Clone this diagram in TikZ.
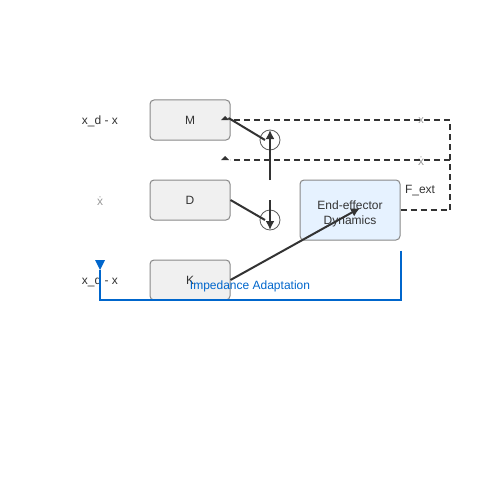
\documentclass[tikz,border=0pt]{standalone}
\usepackage{fontspec}
\setmainfont{Liberation Sans}
\usetikzlibrary{arrows.meta}
\definecolor{ink}{HTML}{333333}
\definecolor{boxline}{HTML}{888888}
\definecolor{blockfill}{HTML}{F0F0F0}
\definecolor{plantfill}{HTML}{E6F2FF}
\definecolor{adaptblue}{HTML}{0066CC}
\definecolor{faint}{HTML}{999999}

\begin{document}
\begin{tikzpicture}[x=1pt,y=-1pt,
  font=\fontsize{12}{15}\selectfont,
  block/.style={draw=boxline, fill=blockfill, rounded corners=4pt, line width=1pt,
    minimum width=80pt, minimum height=40pt, inner sep=0pt, text=ink},
  plant/.style={block, fill=plantfill, minimum width=100pt, minimum height=60pt},
  summer/.style={circle, draw=ink!80, line width=0.8pt, minimum size=20pt, inner sep=0pt},
  flow/.style={draw=ink, line width=2pt},
  tip/.style={-{Latex[length=9pt,width=9pt]}},
  feedback/.style={draw=ink, line width=1.7pt, dash pattern=on 6pt off 4pt},
  adapt/.style={draw=adaptblue, line width=2pt},
  lbl/.style={text=ink, inner sep=0pt}]
  \useasboundingbox (0,0) rectangle (500,500);
  % blocks
  \node[block] (mass) at (190,120) {M};
  \node[block] (damp) at (190,200) {D};
  \node[block] (stiff) at (190,280) {K};
  \node[plant] (ee) at (350,210) {};
  \node[summer] (sumM) at (270,140) {};
  \node[summer] (sumD) at (270,220) {};
  % labels
  \node[lbl, align=center] (eeText) at (350,214) {End-effector\\Dynamics};
  \node[lbl] (errTop) at (100,121) {x\_d - x};
  \node[lbl, text=faint] (velIn) at (100,201) {ẋ};
  \node[lbl] (errBot) at (100,281) {x\_d - x};
  \node[lbl, text=faint, font=\fontsize{11}{13}\selectfont] (posOut) at (421,121) {x};
  \node[lbl, text=faint] (velOut) at (421,161) {ẋ};
  \node[lbl] (fext) at (420,191) {F\_ext};
  \coordinate (upfoot) at (270,180);
  \coordinate (downfoot) at (270,200);
  \coordinate (xend) at (230,120);
  \coordinate (vend) at (230,160);
  \coordinate (xcorner) at (450,120);
  \coordinate (vcorner) at (450,160);
  \coordinate (fcorner) at (450,210);
  \coordinate (adaptL) at (100,300);
  \coordinate (adaptEnd) at (100,270);
  % forward path
  \draw[flow] ([xshift=-2pt,yshift=2pt]mass.east) -- ([xshift=-5pt]sumM.center);
  \draw[flow] (damp.east) -- ([xshift=-5pt]sumD.center);
  \draw[flow,tip] (upfoot) -- ([yshift=10pt]sumM.center);
  \draw[flow,tip] (downfoot) -- ([yshift=-10pt]sumD.center);
  \draw[flow,tip] (stiff.east) -- ([xshift=10pt,yshift=2pt]ee.center);
  % feedback
  \draw[feedback] (ee.east) -- (fcorner) -- (xcorner) -- (xend);
  \draw[feedback] (vcorner) -- (vend);
  \fill[ink] (xend) ++(-9,0) -- ++(4,-4) -- ++(4,4) -- cycle;
  \fill[ink] (vend) ++(-9,0) -- ++(4,-4) -- ++(4,4) -- cycle;
  % adaptation loop
  \draw[adapt] ([yshift=-10pt]ee.south east) |- (adaptL) -- (adaptEnd);
  \fill[adaptblue] (adaptEnd) -- ++(-5,-10) -- ++(10,0) -- cycle;
  \node[lbl, text=adaptblue] (adaptText) at (250,286) {Impedance Adaptation};
\end{tikzpicture}
\end{document}
